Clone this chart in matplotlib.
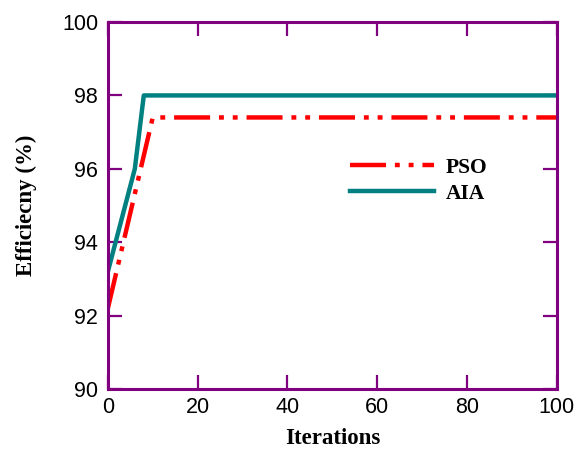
import matplotlib
matplotlib.use('Agg')
import matplotlib.pyplot as plt

# data
pso_x = [0, 10, 100]
pso_y = [92.2, 97.4, 97.4]
aia_x = [0, 6, 8, 100]
aia_y = [93.2, 96.0, 98.0, 98.0]
x_ticks = [0, 20, 40, 60, 80, 100]
y_ticks = [90, 92, 94, 96, 98, 100]

frame = '#800080'
plt.rcParams['font.family'] = 'Liberation Sans'

fig = plt.figure(figsize=(5.8, 4.5), dpi=100)
ax = fig.add_axes([0.186, 0.1356, 0.774, 0.8154])

lw = 3.2
ax.plot(pso_x, pso_y, color='#ff0000', lw=lw,
        linestyle=(0, (8.1, 2.0, 1.1, 2.0, 1.1, 2.0)), label='PSO')
ax.plot(aia_x, aia_y, color='#008080', lw=lw, label='AIA')

ax.set_xlim(0, 100)
ax.set_ylim(90, 100)
ax.set_xticks(x_ticks)
ax.set_yticks(y_ticks)
ax.tick_params(direction='in', length=10, width=1.6, color=frame,
               top=True, right=True, labelsize=15.5)
ax.tick_params(axis='x', pad=6)
ax.tick_params(axis='y', pad=7)
for s in ax.spines.values():
    s.set_color(frame)
    s.set_linewidth(2.2)

ax.set_xlabel('Iterations', fontfamily='Liberation Serif', fontweight='bold',
              fontsize=16.5, labelpad=7)
ax.set_ylabel('Efficiecny (%)', fontfamily='Liberation Serif', fontweight='bold',
              fontsize=16.5, labelpad=18)

ax.legend(loc='upper left', bbox_to_anchor=(0.539, 0.63), frameon=False,
          borderpad=0, borderaxespad=0, handlelength=3.9, handletextpad=0.55,
          labelspacing=0.27,
          prop={'family': 'Liberation Serif', 'weight': 'bold', 'size': 15.5})

fig.savefig('out.png', dpi=100)
